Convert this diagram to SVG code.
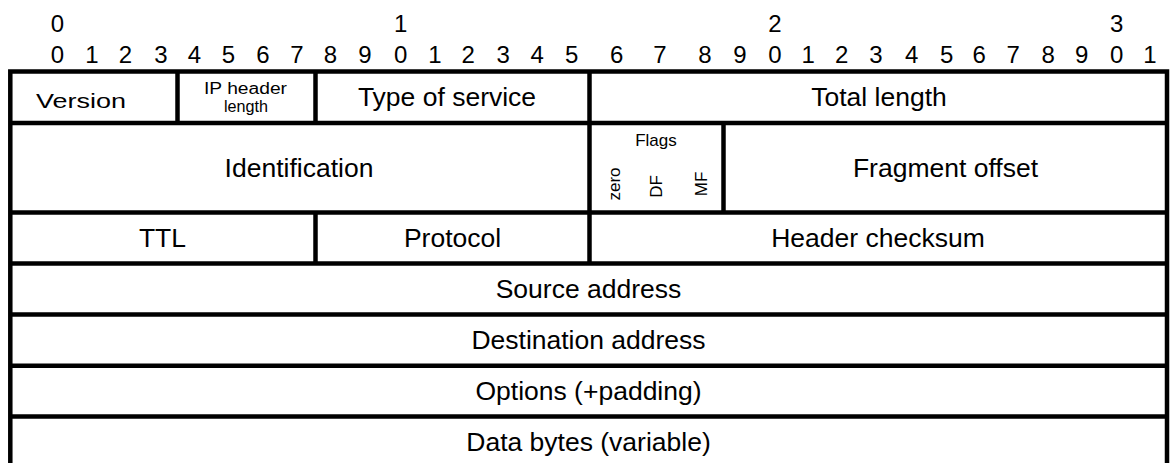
<svg xmlns="http://www.w3.org/2000/svg" width="1170" height="463" viewBox="0 0 1170 463">
<style>
text{font-family:"Liberation Sans",Arial,sans-serif;fill:#000}
.bit{font-size:24px;text-anchor:middle}
.lbl{font-size:26.5px;text-anchor:middle}
.sm{font-size:16px;text-anchor:middle}
.fl{font-size:17px;text-anchor:middle}
.ln{stroke:#000;stroke-width:4.5;fill:none}
</style>
<rect width="1170" height="463" fill="#fff"/>
<g id="bits">
<text class="bit" x="57.5" y="31.5">0</text>
<text class="bit" x="400.7" y="31.5">1</text>
<text class="bit" x="775" y="31.5">2</text>
<text class="bit" x="1116.7" y="31.5">3</text>
<text class="bit" x="57.5" y="63">0</text>
<text class="bit" x="92" y="63">1</text>
<text class="bit" x="125.5" y="63">2</text>
<text class="bit" x="161" y="63">3</text>
<text class="bit" x="194.5" y="63">4</text>
<text class="bit" x="228.5" y="63">5</text>
<text class="bit" x="263" y="63">6</text>
<text class="bit" x="297" y="63">7</text>
<text class="bit" x="330.5" y="63">8</text>
<text class="bit" x="365" y="63">9</text>
<text class="bit" x="400.7" y="63">0</text>
<text class="bit" x="435" y="63">1</text>
<text class="bit" x="468.3" y="63">2</text>
<text class="bit" x="503.3" y="63">3</text>
<text class="bit" x="537.3" y="63">4</text>
<text class="bit" x="571.7" y="63">5</text>
<text class="bit" x="616.7" y="63">6</text>
<text class="bit" x="660" y="63">7</text>
<text class="bit" x="705" y="63">8</text>
<text class="bit" x="740" y="63">9</text>
<text class="bit" x="775" y="63">0</text>
<text class="bit" x="808.3" y="63">1</text>
<text class="bit" x="841.7" y="63">2</text>
<text class="bit" x="876" y="63">3</text>
<text class="bit" x="911.7" y="63">4</text>
<text class="bit" x="946.7" y="63">5</text>
<text class="bit" x="979.3" y="63">6</text>
<text class="bit" x="1013.3" y="63">7</text>
<text class="bit" x="1048.3" y="63">8</text>
<text class="bit" x="1081.7" y="63">9</text>
<text class="bit" x="1116.7" y="63">0</text>
<text class="bit" x="1150" y="63">1</text>
</g>
<g id="connectors">
<rect class="ln" x="10.3" y="71.5" width="1156.7" height="396"/>
<line class="ln" x1="10" y1="123" x2="1167" y2="123"/>
<line class="ln" x1="10" y1="212.5" x2="1167" y2="212.5"/>
<line class="ln" x1="10" y1="263.5" x2="1167" y2="263.5"/>
<line class="ln" x1="10" y1="314.5" x2="1167" y2="314.5"/>
<line class="ln" x1="10" y1="365.7" x2="1167" y2="365.7"/>
<line class="ln" x1="10" y1="416.5" x2="1167" y2="416.5"/>
<line class="ln" x1="177.5" y1="71.5" x2="177.5" y2="123"/>
<line class="ln" x1="315.5" y1="71.5" x2="315.5" y2="123"/>
<line class="ln" x1="589.5" y1="71.5" x2="589.5" y2="263.5"/>
<line class="ln" x1="723.5" y1="123" x2="723.5" y2="212.5"/>
<line class="ln" x1="315.5" y1="212.5" x2="315.5" y2="263.5"/>
</g>
<g id="version"><text x="81" y="108" style="font-size:20px;text-anchor:middle" textLength="90" lengthAdjust="spacingAndGlyphs">Version</text></g>
<g id="ihl"><text class="sm" x="245.5" y="94" textLength="83" lengthAdjust="spacingAndGlyphs">IP header</text><text class="sm" x="246" y="112" textLength="44" lengthAdjust="spacingAndGlyphs">length</text></g>
<g id="tos"><text class="lbl" x="447" y="105.5">Type of service</text></g>
<g id="total-length"><text class="lbl" x="879" y="105.5">Total length</text></g>
<g id="identification"><text class="lbl" x="299" y="177">Identification</text></g>
<g id="flags">
<text class="fl" x="656" y="146">Flags</text>
<text class="fl" transform="translate(620,184) rotate(-90)">zero</text>
<text class="fl" transform="translate(661.5,186.5) rotate(-90)">DF</text>
<text class="fl" transform="translate(706.5,184) rotate(-90)">MF</text>
</g>
<g id="fragment-offset"><text class="lbl" x="945.5" y="177">Fragment offset</text></g>
<g id="ttl"><text class="lbl" x="162.5" y="247">TTL</text></g>
<g id="protocol"><text class="lbl" x="452.5" y="247">Protocol</text></g>
<g id="checksum"><text class="lbl" x="878" y="247">Header checksum</text></g>
<g id="source"><text class="lbl" x="588.5" y="298">Source address</text></g>
<g id="destination"><text class="lbl" x="588.5" y="349">Destination address</text></g>
<g id="options"><text class="lbl" x="588.5" y="400">Options (+padding)</text></g>
<g id="data"><text class="lbl" x="588.5" y="451">Data bytes (variable)</text></g>
</svg>
